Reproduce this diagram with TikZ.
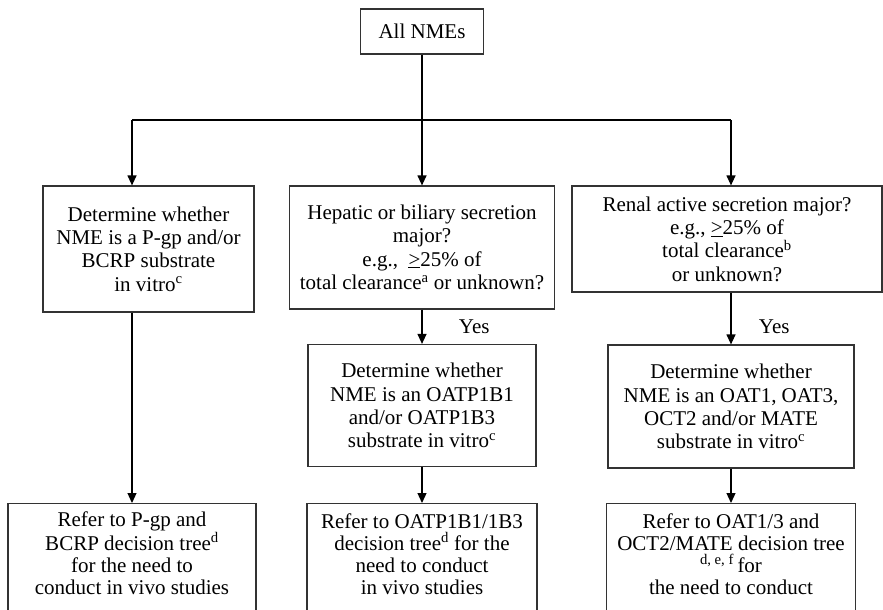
\documentclass[tikz,border=0pt]{standalone}
\usepackage{fontspec}
\setmainfont{Liberation Serif}
\usetikzlibrary{arrows.meta}

\begin{document}
\begin{tikzpicture}[x=1pt, y=-1pt, >={Triangle[length=10pt,width=9pt]},
    box/.style={draw=black!80, line width=1.2pt, align=center, inner sep=3pt, font=\fontsize{21}{23.3}\selectfont},
    refbox/.style={box, anchor=north, inner sep=4pt, text height=87pt, text depth=60pt, font=\fontsize{21}{22.2}\selectfont},
    yes/.style={font=\fontsize{21}{23.3}\selectfont},
    link/.style={line width=1.2pt}]
  \useasboundingbox (0,0) rectangle (883,610);
  \clip (0,0) rectangle (883,610);
  \node(all)[box, minimum width=123pt, minimum height=45pt] at (422,31.5) {All NMEs};
  \node(pgp)[box, minimum width=211pt, minimum height=126pt] at (148.5,249) {Determine whether\\ NME is a P-gp and/or\\ BCRP substrate\\ in vitro\textsuperscript{c}};
  \node(hep)[box, minimum width=265pt, minimum height=123pt] at (422,247.5) {Hepatic or biliary secretion\\ major?\\ e.g.,\ \ \underline{>}25\% of\\ total clearance\textsuperscript{a} or unknown?};
  \node(ren)[box, minimum width=310pt, minimum height=106pt] at (727,239) {Renal active secretion major?\\ e.g., \underline{>}25\% of\\ total clearance\textsuperscript{b}\\ or unknown?};
  \node(oatp)[box, minimum width=228pt, minimum height=122pt] at (422,405.5) {Determine whether\\ NME is an OATP1B1\\ and/or OATP1B3\\ substrate in vitro\textsuperscript{c}};
  \node(oat)[box, minimum width=246pt, minimum height=123pt] at (731,406.5) {Determine whether\\ NME is an OAT1, OAT3,\\ OCT2 and/or MATE\\ substrate in vitro\textsuperscript{c}};
  \node(pgpref)[refbox, minimum width=248pt] at (132,503) {Refer to P-gp and\\ BCRP decision tree\textsuperscript{d}\\ for the need to\\ conduct in vivo studies};
  \node(oatpref)[refbox, minimum width=230pt] at (422,503) {Refer to OATP1B1/1B3\\ decision tree\textsuperscript{d} for the\\ need to conduct\\ in vivo studies};
  \node(oatref)[refbox, minimum width=249pt] at (731,503) {Refer to OAT1/3 and\\ OCT2/MATE decision tree\\ \textsuperscript{d, e, f}\,for\\ the need to conduct};
  \coordinate(split) at (422,120);
  \coordinate(lft) at (132,120);
  \coordinate(rgt) at (731,120);
  \draw[link] (all) -- (split);
  \draw[link] (lft) -- (rgt);
  \draw[link, ->] (lft) -- (lft |- pgp.north);
  \draw[link, ->] (split) -- (hep);
  \draw[link, ->] (rgt) -- (rgt |- ren.north);
  \draw[link, ->] (hep) -- (oatp) node[yes, midway, right=33pt] (yes1) {Yes};
  \draw[link, ->] (oat.north |- ren.south) -- (oat) node[yes, midway, right=24pt, yshift=-8pt] (yes2) {Yes};
  \draw[link, ->] (pgpref.north |- pgp.south) -- (pgpref);
  \draw[link, ->] (oatp) -- (oatpref);
  \draw[link, ->] (oat) -- (oatref);
\end{tikzpicture}
\end{document}
